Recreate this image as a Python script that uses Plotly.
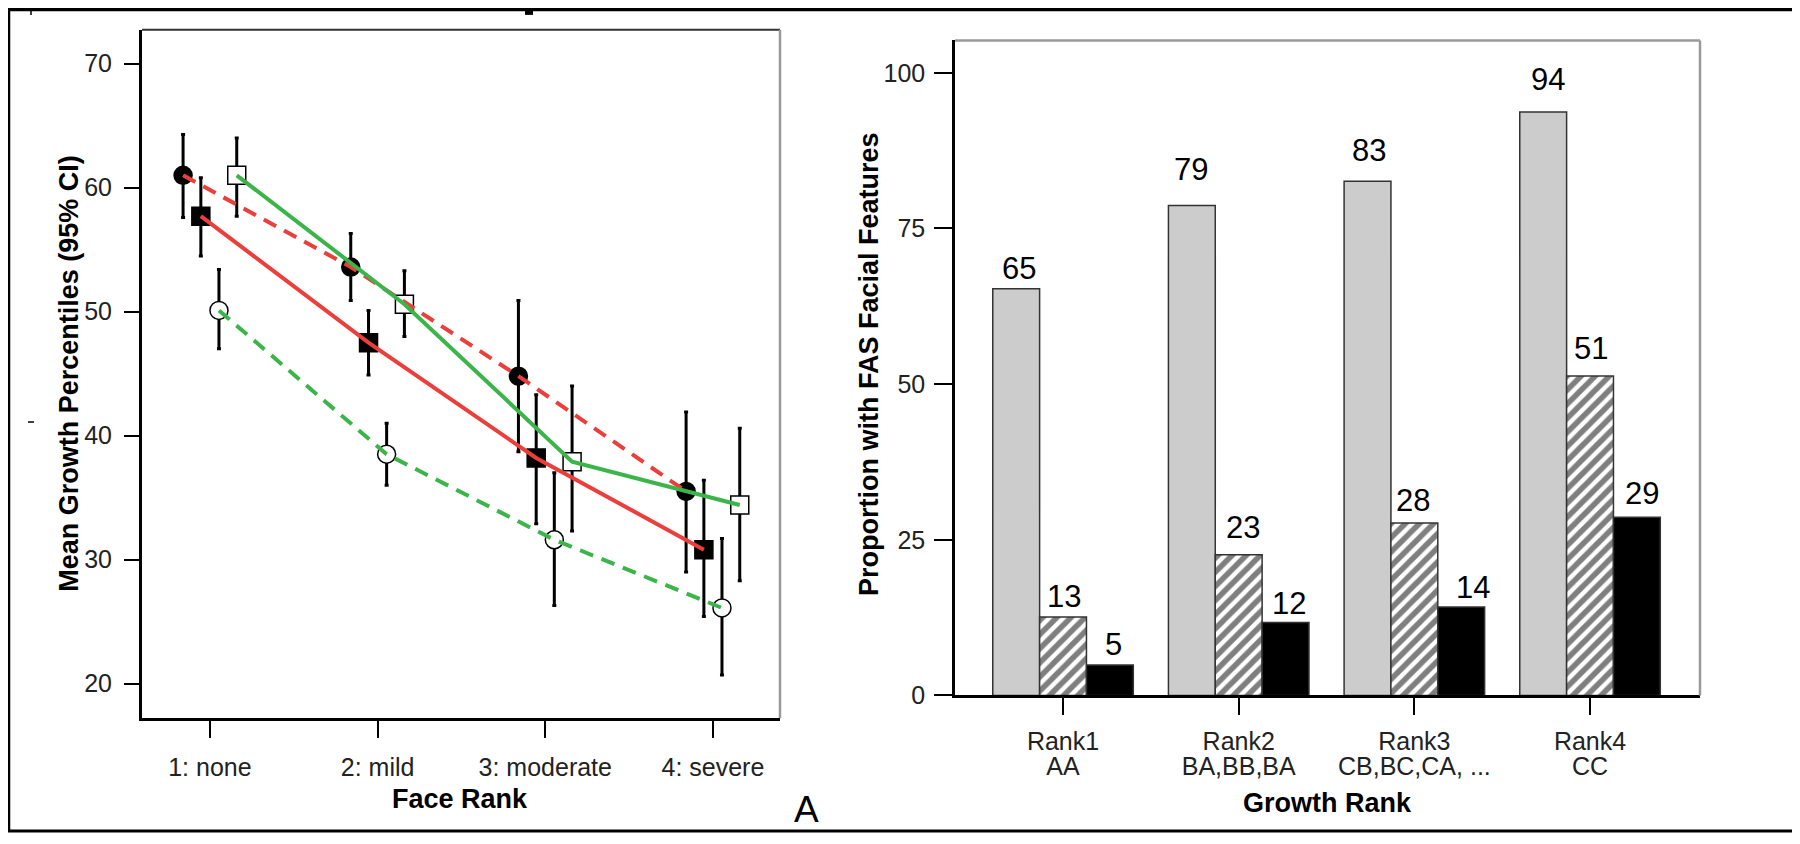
import plotly.graph_objects as go

# ---------------- Left panel data ----------------
face_ranks = [1, 2, 3, 4]
face_labels = ["1: none", "2: mild", "3: moderate", "4: severe"]

fc_mean = [61.0, 53.6, 44.8, 35.5]   # filled circle, red dashed
fc_hi = [64.3, 56.3, 50.9, 41.9]
fc_lo = [57.6, 50.9, 38.7, 29.0]

fs_mean = [57.7, 47.5, 38.2, 30.8]   # filled square, red solid
fs_hi = [60.8, 50.1, 43.3, 36.4]
fs_lo = [54.5, 44.9, 32.9, 25.4]

oc_mean = [50.1, 38.5, 31.6, 26.1]   # open circle, green dashed
oc_hi = [53.4, 41.0, 37.0, 31.7]
oc_lo = [47.0, 36.0, 26.3, 20.7]

os_mean = [61.0, 50.6, 37.9, 34.4]   # open square, green solid
os_hi = [64.0, 53.3, 44.0, 40.6]
os_lo = [57.7, 48.0, 32.3, 28.3]

# ---------------- Right panel data ----------------
growth_ranks = [0, 1, 2, 3]
growth_labels = ["Rank1", "Rank2", "Rank3", "Rank4"]
growth_codes = ["AA", "BA,BB,BA", "CB,BC,CA, ...", "CC"]
grey_vals = [65.3, 78.7, 82.6, 93.7]
hatch_vals = [12.6, 22.6, 27.7, 51.3]
black_vals = [4.9, 11.7, 14.2, 28.6]

W, H = 1800, 844
FONT = "Liberation Sans, Arial, sans-serif"
RED = "#ec3e3a"
GREEN = "#3bb54a"


def px_x(p):
    return p / W


def px_y(p):
    return 1 - p / H


fig = go.Figure()

series = [
    ("Filled circle", fc_mean, fc_hi, fc_lo, -0.16, "circle", "black", RED, "14px,9px"),
    ("Filled square", fs_mean, fs_hi, fs_lo, -0.054, "square", "black", RED, "solid"),
    ("Open circle", oc_mean, oc_hi, oc_lo, 0.054, "circle", "white", GREEN, "14px,9px"),
    ("Open square", os_mean, os_hi, os_lo, 0.16, "square", "white", GREEN, "solid"),
]

for name, m, hi, lo, off, sym, fill, lc, dash in series:
    xs = [r + off for r in face_ranks]
    fig.add_trace(go.Scatter(
        x=xs, y=m, mode="markers", name=name, showlegend=False,
        marker=dict(symbol=sym, size=18, color=fill, line=dict(color="black", width=1.5)),
        error_y=dict(type="data", symmetric=False,
                     array=[h - v for h, v in zip(hi, m)],
                     arrayminus=[v - l for l, v in zip(lo, m)],
                     color="black", thickness=3, width=2),
        xaxis="x", yaxis="y",
    ))

for name, m, hi, lo, off, sym, fill, lc, dash in series:
    xs = [r + off for r in face_ranks]
    fig.add_trace(go.Scatter(
        x=xs, y=m, mode="lines", showlegend=False, hoverinfo="skip",
        line=dict(color=lc, width=4, dash=dash),
        xaxis="x", yaxis="y",
    ))

# ---------------- Bars ----------------
fig.add_trace(go.Bar(x=growth_ranks, y=grey_vals, marker=dict(color="#cccccc", line=dict(color="#333333", width=1.5)),
                     showlegend=False, xaxis="x2", yaxis="y2", name="grey"))
fig.add_trace(go.Bar(x=growth_ranks, y=hatch_vals,
                     marker=dict(color="white", line=dict(color="#333333", width=1.5),
                                 pattern=dict(shape="/", fgcolor="black", bgcolor="white", size=10, solidity=0.55)),
                     showlegend=False, xaxis="x2", yaxis="y2", name="hatched"))
fig.add_trace(go.Bar(x=growth_ranks, y=black_vals, marker=dict(color="black", line=dict(color="#333333", width=1.5)),
                     showlegend=False, xaxis="x2", yaxis="y2", name="black"))
# carrier trace for the second line of the growth-rank tick labels
fig.add_trace(go.Scatter(x=[None], y=[None], mode="markers", showlegend=False, hoverinfo="skip",
                         xaxis="x3", yaxis="y2"))

bar_w = 0.8 / 3
label_dy = [[20, 36, 31, 33], [20, 27, 22, 28], [20, 19, 20, 24]]
label_dx = [[3, -1, 1, 5], [1, 4, -1, 1], [4, 3, 12, 5]]
annotations = []
for gi, vals in enumerate([grey_vals, hatch_vals, black_vals]):
    for k, (r, v) in enumerate(zip(growth_ranks, vals)):
        annotations.append(dict(
            x=r + (gi - 1) * bar_w, y=v, xref="x2", yref="y2",
            text=f"{v:.0f}", showarrow=False, yanchor="middle", xanchor="center",
            yshift=label_dy[gi][k], xshift=label_dx[gi][k],
            font=dict(family=FONT, size=31, color="black"),
        ))

title_font = dict(family=FONT, size=27, color="black", weight="bold")
annotations += [
    dict(x=px_x(61), y=px_y(372), xref="paper", yref="paper", text="<b>Mean Growth Percentiles (95% CI)</b>",
         textangle=-90, showarrow=False, font=title_font, xanchor="center", yanchor="middle"),
    dict(x=px_x(452), y=px_y(804), xref="paper", yref="paper", text="<b>Face Rank</b>",
         showarrow=False, font=title_font, xanchor="center", yanchor="middle"),
    dict(x=px_x(861), y=px_y(362), xref="paper", yref="paper", text="<b>Proportion with FAS Facial Features</b>",
         textangle=-90, showarrow=False, font=title_font, xanchor="center", yanchor="middle"),
    dict(x=px_x(1319), y=px_y(808), xref="paper", yref="paper", text="<b>Growth Rank</b>",
         showarrow=False, font=title_font, xanchor="center", yanchor="middle"),
    dict(x=px_x(798), y=px_y(815), xref="paper", yref="paper", text="A",
         showarrow=False, font=dict(family=FONT, size=37, color="black"), xanchor="center", yanchor="middle"),
]

shapes = [
    dict(type="line", xref="x domain", yref="y domain", x0=0, x1=1, y0=1, y1=1, line=dict(color="#333333", width=2)),
    dict(type="line", xref="x domain", yref="y domain", x0=1, x1=1, y0=0, y1=1, line=dict(color="#9a9a9a", width=2.5)),
    dict(type="line", xref="x2 domain", yref="y2 domain", x0=0, x1=1, y0=1, y1=1, line=dict(color="#9a9a9a", width=2.5)),
    dict(type="line", xref="x2 domain", yref="y2 domain", x0=1, x1=1, y0=0, y1=1, line=dict(color="#9a9a9a", width=2.5)),
    dict(type="line", xref="paper", yref="paper", x0=0, x1=1, y0=px_y(1.5), y1=px_y(1.5), line=dict(color="black", width=3.5)),
    dict(type="line", xref="paper", yref="paper", x0=px_x(1), x1=px_x(1), y0=px_y(0), y1=px_y(838), line=dict(color="black", width=2.5)),
    dict(type="line", xref="paper", yref="paper", x0=px_x(1797), x1=px_x(1797), y0=px_y(0), y1=px_y(838), line=dict(color="black", width=2.5)),
    dict(type="line", xref="paper", yref="paper", x0=0, x1=1, y0=px_y(837), y1=px_y(837), line=dict(color="black", width=3)),
    dict(type="rect", xref="paper", yref="paper", x0=px_x(517), x1=px_x(525), y0=px_y(7), y1=px_y(2),
         fillcolor="black", line=dict(width=0)),
    dict(type="line", xref="paper", yref="paper", x0=px_x(23), x1=px_x(23), y0=px_y(2), y1=px_y(7),
         line=dict(color="black", width=1.5)),
    dict(type="line", xref="paper", yref="paper", x0=px_x(20), x1=px_x(26), y0=px_y(421), y1=px_y(421),
         line=dict(color="black", width=1.5)),
]

tick_font = dict(family=FONT, size=25, color="#222222")
x2_domain = [px_x(947), px_x(1692)]
x2_range = [-0.615, 3.626]

fig.update_layout(
    width=W, height=H, autosize=False,
    margin=dict(l=0, r=0, t=0, b=0),
    paper_bgcolor="white", plot_bgcolor="white",
    barmode="group", bargap=0.2, bargroupgap=0,
    annotations=annotations, shapes=shapes,
    xaxis=dict(domain=[px_x(134), px_x(772)], range=[0.595, 4.4],
               tickmode="array", tickvals=face_ranks, ticktext=face_labels,
               showgrid=False, zeroline=False, showline=True, linecolor="black", linewidth=3,
               ticks="outside", ticklen=17, tickwidth=2, tickcolor="black",
               tickfont=tick_font, ticklabelstandoff=8, anchor="y"),
    yaxis=dict(domain=[px_y(722), px_y(22)], range=[17.22, 72.75],
               tickmode="array", tickvals=[20, 30, 40, 50, 60, 70],
               showgrid=False, zeroline=False, showline=True, linecolor="black", linewidth=3,
               ticks="outside", ticklen=15, tickwidth=2, tickcolor="black",
               tickfont=tick_font, ticklabelstandoff=7, anchor="x"),
    xaxis2=dict(domain=x2_domain, range=x2_range,
                tickmode="array", tickvals=growth_ranks, ticktext=growth_labels,
                showgrid=False, zeroline=False, showline=True, linecolor="black", linewidth=3,
                ticks="outside", ticklen=17, tickwidth=2, tickcolor="black",
                tickfont=tick_font, ticklabelstandoff=5, anchor="y2"),
    xaxis3=dict(domain=x2_domain, range=x2_range, overlaying="x2", side="bottom", anchor="y2",
                tickmode="array", tickvals=growth_ranks, ticktext=growth_codes,
                showgrid=False, zeroline=False, showline=False,
                ticks="outside", ticklen=17, tickwidth=2, tickcolor="rgba(0,0,0,0)",
                tickfont=tick_font, ticklabelstandoff=32),
    yaxis2=dict(domain=[px_y(699), px_y(33)], range=[0, 105.2],
                tickmode="array", tickvals=[0, 25, 50, 75, 100],
                showgrid=False, zeroline=False, showline=True, linecolor="black", linewidth=2.5,
                ticks="outside", ticklen=18, tickwidth=2, tickcolor="black",
                tickfont=tick_font, ticklabelstandoff=4, anchor="x2"),
)

fig.write_html("out.html")
